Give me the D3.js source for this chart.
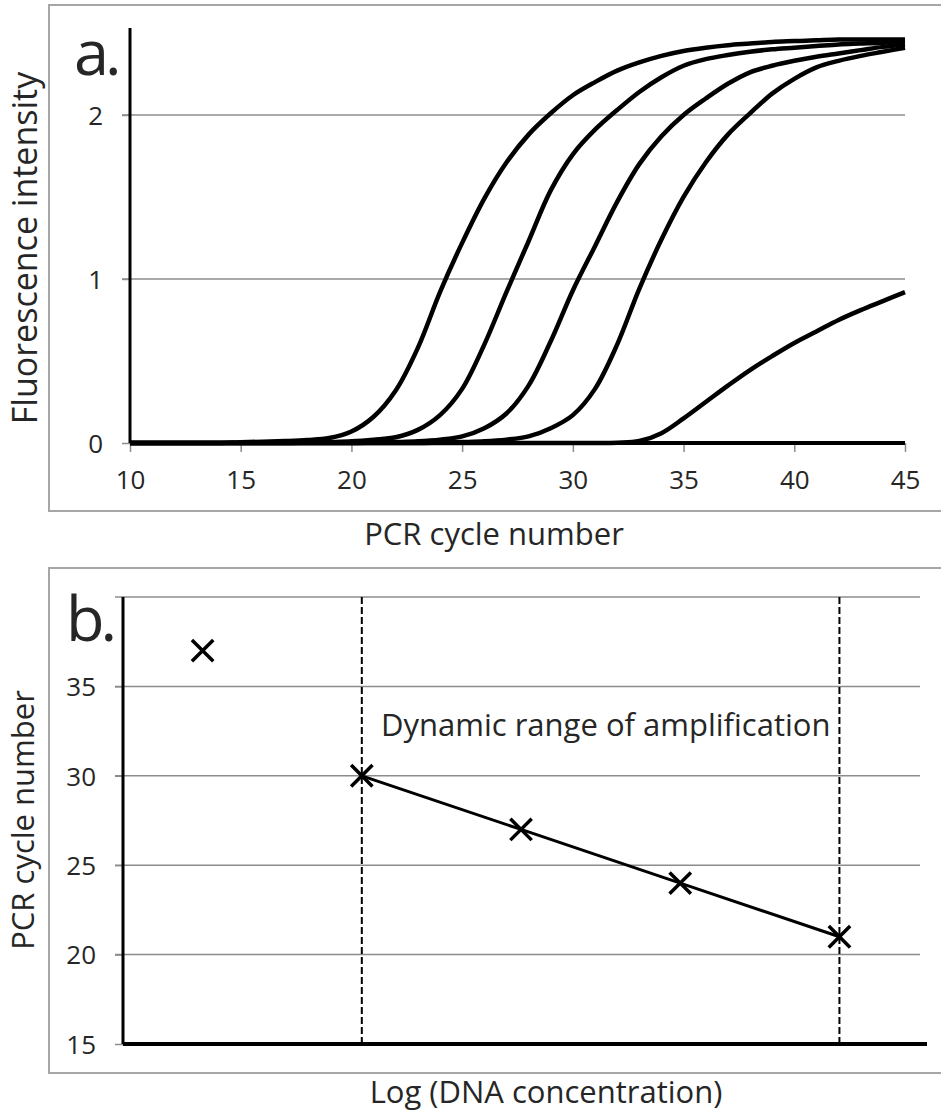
<!DOCTYPE html>
<html>
<head>
<meta charset="utf-8">
<script src="https://cdn.jsdelivr.net/npm/d3@7"></script>
<style>
	body { margin: 0; background: #fff; }
	svg { display: block; font-family: "Open Sans", sans-serif; }
	svg text { font-family: "Open Sans", sans-serif; }
	.tick text { fill: #262626; font-size: 26px; }
	.title { fill: #262626; font-size: 31px; }
	.title-big { fill: #262626; font-size: 34px; }
	.panel-label { fill: #262626; font-size: 63px; letter-spacing: -4px; }
</style>
</head>
<body>
<script>
'use strict';

// ---- panel a: amplification curves ----
const cycles = [10, 11, 12, 13, 14, 15, 16, 17, 18, 19, 20, 21, 22, 23, 24, 25, 26, 27,
	28, 29, 30, 31, 32, 33, 34, 35, 36, 37, 38, 39, 40, 41, 42, 43, 44, 45];

const fluor1 = [0, 0, 0, 0, 0, 0.005, 0.008, 0.012, 0.018, 0.03, 0.07, 0.16, 0.32, 0.58, 0.92, 1.22,
	1.49, 1.71, 1.88, 2.01, 2.12, 2.20, 2.27, 2.32, 2.36, 2.39, 2.41, 2.425, 2.435, 2.445, 2.45, 2.455,
	2.46, 2.46, 2.46, 2.46];
const fluor2 = [0, 0, 0, 0, 0, 0, 0, 0, 0.003, 0.006, 0.01, 0.02, 0.035, 0.08, 0.17, 0.33,
	0.60, 0.92, 1.23, 1.54, 1.76, 1.91, 2.03, 2.14, 2.23, 2.30, 2.34, 2.365, 2.385, 2.40, 2.41, 2.42,
	2.43, 2.435, 2.44, 2.45];
const fluor3 = [0, 0, 0, 0, 0, 0, 0, 0, 0, 0, 0, 0.003, 0.006, 0.01, 0.02, 0.04,
	0.09, 0.18, 0.35, 0.62, 0.93, 1.20, 1.47, 1.70, 1.87, 2.00, 2.10, 2.19, 2.26, 2.30, 2.33, 2.355,
	2.375, 2.395, 2.415, 2.43];
const fluor4 = [0, 0, 0, 0, 0, 0, 0, 0, 0, 0, 0, 0, 0, 0, 0.003, 0.006,
	0.01, 0.02, 0.04, 0.09, 0.17, 0.33, 0.60, 0.94, 1.24, 1.50, 1.71, 1.88, 2.01, 2.13, 2.22, 2.29,
	2.33, 2.36, 2.385, 2.41];
const fluor5 = [0, 0, 0, 0, 0, 0, 0, 0, 0, 0, 0, 0, 0, 0, 0, 0,
	0, 0, 0, 0, 0, 0, 0.002, 0.012, 0.06, 0.15, 0.25, 0.35, 0.445, 0.53, 0.61, 0.68,
	0.75, 0.81, 0.865, 0.92];

const cycleTicks = [10, 15, 20, 25, 30, 35, 40, 45];
const fluorTicks = [0, 1, 2];

// ---- panel b: standard curve ----
const logConc = [1, 2, 3, 4, 5];
const ctValues = [37, 30, 27, 24, 21];
const rangeBounds = [2, 5];       // dynamic range limits (dashed lines)
const ctTicks = [15, 20, 25, 30, 35];
const ctGrid = [20, 25, 30, 35, 40];


const W = 941, H = 1112;

const svg = d3.select("body").append("svg")
	.attr("width", W)
	.attr("height", H);

svg.append("rect")
	.attr("width", W).attr("height", H)
	.attr("fill", "#fff");

// chart frames
function frame(y0, y1){
	svg.append("rect")
		.attr("x", 49).attr("y", y0)
		.attr("width", W).attr("height", y1 - y0)
		.attr("fill", "none")
		.attr("stroke", "#a6a6a6")
		.attr("stroke-width", 2);
}
frame(5, 511);
frame(568, 1073);

function styleAxis(g){
	g.attr("font-family", null).attr("font-size", null);
	g.select(".domain").remove();
	g.selectAll(".tick line").attr("stroke", "#8c8c8c").attr("stroke-width", 1.5);
}


// ================= panel a =================
let xA = d3.scaleLinear().domain([10, 45]).range([130, 905]);
let yA = d3.scaleLinear().domain([0, 2.53]).range([443, 28]);

let gA = svg.append("g");

// gridlines
gA.selectAll(".grid")
	.data(fluorTicks.filter(function(d){ return d > 0; }))
	.enter().append("line")
	.attr("x1", xA(10) - 8).attr("x2", xA(45))
	.attr("y1", function(d){ return yA(d); })
	.attr("y2", function(d){ return yA(d); })
	.attr("stroke", "#8c8c8c")
	.attr("stroke-width", 1.5);

// y axis labels + short ticks
let yAxisA = gA.append("g")
	.attr("transform", "translate(" + xA(10) + ",0)")
	.call(d3.axisLeft(yA).tickValues(fluorTicks).tickSize(8).tickPadding(0).tickFormat(d3.format("d")));
styleAxis(yAxisA);
yAxisA.selectAll(".tick text").attr("x", -27).attr("dy", "0.36em");

// x axis
let xAxisA = gA.append("g")
	.attr("transform", "translate(0," + yA(0) + ")")
	.call(d3.axisBottom(xA).tickValues(cycleTicks).tickSize(9).tickFormat(d3.format("d")));
styleAxis(xAxisA);
xAxisA.selectAll(".tick text").attr("y", 46).attr("dy", 0);

// curves
let lineA = d3.line()
	.x(function(d){ return xA(d[0]); })
	.y(function(d){ return yA(d[1]); })
	.curve(d3.curveCatmullRom.alpha(0.5));

[fluor1, fluor2, fluor3, fluor4, fluor5].forEach(function(series){
	gA.append("path")
		.datum(cycles.map(function(c, i){ return [c, series[i]]; }))
		.attr("d", lineA)
		.attr("fill", "none")
		.attr("stroke", "#000")
		.attr("stroke-width", 4.5)
		.attr("stroke-linejoin", "round");
});

// axis lines
gA.append("line")
	.attr("x1", xA(10)).attr("x2", xA(10))
	.attr("y1", yA.range()[1]).attr("y2", yA(0))
	.attr("stroke", "#000").attr("stroke-width", 3);
gA.append("line")
	.attr("x1", xA(10)).attr("x2", xA(45))
	.attr("y1", yA(0)).attr("y2", yA(0))
	.attr("stroke", "#000").attr("stroke-width", 4);

// titles
svg.append("text")
	.attr("class", "panel-label")
	.attr("x", 74).attr("y", 75)
	.text("a.");
svg.append("text")
	.attr("class", "title-big")
	.attr("transform", "translate(37,248) rotate(-90)")
	.attr("text-anchor", "middle")
	.text("Fluorescence intensity");
svg.append("text")
	.attr("class", "title")
	.attr("x", 494).attr("y", 545)
	.attr("text-anchor", "middle")
	.text("PCR cycle number");


// ================= panel b =================
let xB = d3.scaleLinear().domain([0.5, 5.55]).range([123, 927]);
let yB = d3.scaleLinear().domain([15, 40]).range([1044, 597]);

let gB = svg.append("g");

gB.selectAll(".grid")
	.data(ctGrid)
	.enter().append("line")
	.attr("x1", xB(0.5) - 8).attr("x2", 920)
	.attr("y1", function(d){ return yB(d); })
	.attr("y2", function(d){ return yB(d); })
	.attr("stroke", "#8c8c8c")
	.attr("stroke-width", 1.5);

let yAxisB = gB.append("g")
	.attr("transform", "translate(" + xB(0.5) + ",0)")
	.call(d3.axisLeft(yB).tickValues(ctTicks).tickSize(8).tickPadding(0).tickFormat(d3.format("d")));
styleAxis(yAxisB);
yAxisB.selectAll(".tick text").attr("x", -27).attr("dy", "0.36em");

// dashed bounds of the dynamic range
gB.selectAll(".bound")
	.data(rangeBounds)
	.enter().append("line")
	.attr("x1", function(d){ return xB(d); })
	.attr("x2", function(d){ return xB(d); })
	.attr("y1", yB(40)).attr("y2", yB(15))
	.attr("stroke", "#000")
	.attr("stroke-width", 2)
	.attr("stroke-dasharray", "7,3");

// axis lines
gB.append("line")
	.attr("x1", xB(0.5)).attr("x2", xB(0.5))
	.attr("y1", yB(40)).attr("y2", yB(15))
	.attr("stroke", "#000").attr("stroke-width", 3);
gB.append("line")
	.attr("x1", xB(0.5)).attr("x2", xB(5.55))
	.attr("y1", yB(15)).attr("y2", yB(15))
	.attr("stroke", "#000").attr("stroke-width", 4);

// regression line through the points in range
let inRange = logConc
	.map(function(c, i){ return [c, ctValues[i]]; })
	.filter(function(d){ return d[0] >= rangeBounds[0] && d[0] <= rangeBounds[1]; });

gB.append("path")
	.datum(inRange)
	.attr("d", d3.line()
		.x(function(d){ return xB(d[0]); })
		.y(function(d){ return yB(d[1]); }))
	.attr("fill", "none")
	.attr("stroke", "#000")
	.attr("stroke-width", 3);

let marker = d3.symbol().type(d3.symbolX).size(300);
gB.selectAll(".pt")
	.data(logConc)
	.enter().append("path")
	.attr("transform", function(d, i){ return "translate(" + xB(d) + "," + yB(ctValues[i]) + ")"; })
	.attr("d", marker)
	.attr("fill", "none")
	.attr("stroke", "#000")
	.attr("stroke-width", 3.5);

svg.append("text")
	.attr("class", "title")
	.attr("x", 381).attr("y", 736)
	.text("Dynamic range of amplification");

svg.append("text")
	.attr("class", "panel-label")
	.attr("x", 66).attr("y", 641)
	.text("b.");
svg.append("text")
	.attr("class", "title")
	.attr("transform", "translate(34,820) rotate(-90)")
	.attr("text-anchor", "middle")
	.text("PCR cycle number");
svg.append("text")
	.attr("class", "title")
	.attr("x", 546).attr("y", 1103)
	.attr("text-anchor", "middle")
	.text("Log (DNA concentration)");
</script>
</body>
</html>
